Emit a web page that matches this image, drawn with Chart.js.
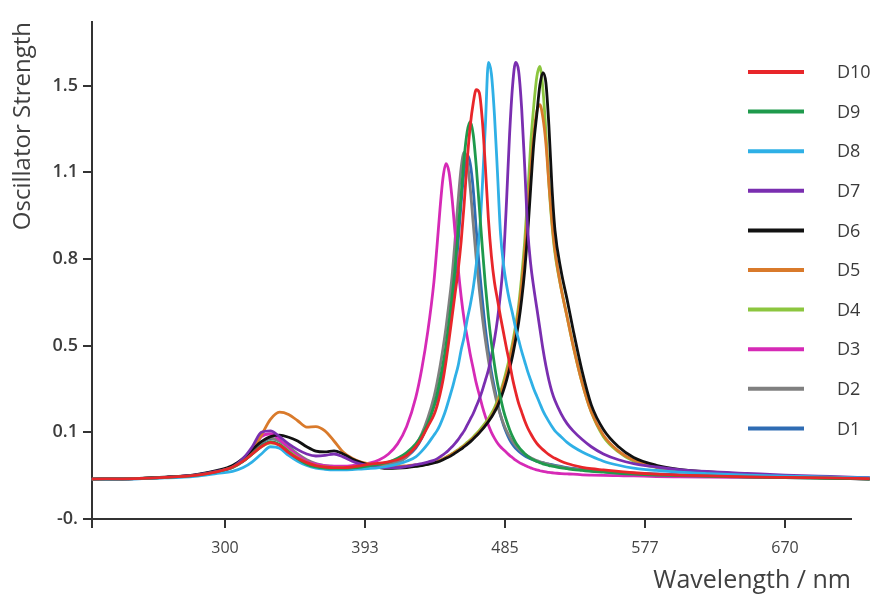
<!DOCTYPE html>
<html>
<head>
<meta charset="utf-8">
<title>Oscillator Strength</title>
<script src="https://cdn.jsdelivr.net/npm/chart.js@4/dist/chart.umd.min.js"></script>
<style>
  html, body { margin: 0; padding: 0; background: #fff; }
  #wrap { width: 885px; height: 599px; }
</style>
</head>
<body>
<div id="wrap"><canvas id="spectra" width="885" height="599"></canvas></div>
<script>
// Wavelength grid (nm) shared by every series, finer around the main bands
const wavelengths = [
    212, 240, 260, 280, 295,
    305, 312, 318, 324, 330, 336, 342, 348, 354, 360, 366, 372, 378, 384, 390,
    396, 402, 408, 414, 420, 426, 430, 434, 438,
    440, 442, 444, 446, 448, 450, 452, 454, 456, 458,
    460, 462, 464, 466, 468, 470, 472, 474, 476, 478,
    480, 482, 484, 486, 488, 490, 492, 494, 496, 498,
    500, 502, 504, 506, 508, 510, 512, 514, 516, 518,
    522, 526, 530, 536, 542, 550, 560, 570, 585, 600, 620, 645, 670, 700, 726,
];

const seriesD10 = [
    0.138, 0.140, 0.144, 0.151, 0.164,
    0.180, 0.200, 0.225, 0.250, 0.265, 0.255, 0.230, 0.210, 0.195, 0.185, 0.180, 0.178, 0.178, 0.180, 0.185,
    0.190, 0.193, 0.198, 0.205, 0.220, 0.250, 0.280, 0.320, 0.360,
    0.390, 0.430, 0.480, 0.545, 0.620, 0.700, 0.780, 0.860, 0.960, 1.090,
    1.240, 1.360, 1.440, 1.486, 1.475, 1.380, 1.220, 1.040, 0.910, 0.820,
    0.760, 0.700, 0.645, 0.590, 0.540, 0.485, 0.440, 0.400, 0.370, 0.340,
    0.315, 0.295, 0.277, 0.262, 0.250, 0.240, 0.231, 0.223, 0.216, 0.210,
    0.200, 0.192, 0.186, 0.179, 0.174, 0.170, 0.165, 0.160, 0.155, 0.152, 0.149, 0.146, 0.144, 0.142, 0.140,
];
const seriesD9 = [
    0.138, 0.140, 0.144, 0.151, 0.164,
    0.180, 0.200, 0.225, 0.252, 0.268, 0.258, 0.232, 0.208, 0.190, 0.180, 0.176, 0.175, 0.175, 0.177, 0.180,
    0.185, 0.190, 0.197, 0.210, 0.230, 0.260, 0.290, 0.330, 0.390,
    0.430, 0.480, 0.535, 0.600, 0.680, 0.770, 0.870, 1.000, 1.120, 1.250,
    1.340, 1.375, 1.330, 1.220, 1.080, 0.940, 0.810, 0.700, 0.610, 0.535,
    0.470, 0.420, 0.375, 0.340, 0.310, 0.285, 0.265, 0.250, 0.237, 0.226,
    0.217, 0.210, 0.204, 0.199, 0.195, 0.191, 0.188, 0.185, 0.183, 0.181,
    0.177, 0.174, 0.171, 0.168, 0.165, 0.162, 0.158, 0.155, 0.152, 0.150, 0.148, 0.145, 0.143, 0.141, 0.139,
];
const seriesD8 = [
    0.137, 0.139, 0.142, 0.148, 0.158,
    0.165, 0.178, 0.198, 0.225, 0.250, 0.245, 0.220, 0.200, 0.185, 0.176, 0.172, 0.170, 0.170, 0.171, 0.173,
    0.175, 0.178, 0.183, 0.190, 0.200, 0.215, 0.235, 0.260, 0.290,
    0.305, 0.325, 0.350, 0.380, 0.415, 0.450, 0.490, 0.530, 0.585, 0.630,
    0.690, 0.740, 0.800, 0.880, 0.980, 1.150, 1.360, 1.580, 1.540, 1.400,
    1.200, 0.990, 0.880, 0.810, 0.755, 0.710, 0.660, 0.620, 0.580, 0.545,
    0.510, 0.480, 0.450, 0.425, 0.400, 0.375, 0.355, 0.337, 0.320, 0.305,
    0.285, 0.265, 0.250, 0.232, 0.217, 0.200, 0.186, 0.176, 0.168, 0.162, 0.157, 0.152, 0.148, 0.145, 0.142,
];
const seriesD7 = [
    0.138, 0.140, 0.144, 0.152, 0.166,
    0.180, 0.210, 0.250, 0.300, 0.305, 0.285, 0.260, 0.240, 0.225, 0.218, 0.220, 0.225, 0.215, 0.200, 0.190,
    0.185, 0.180, 0.178, 0.178, 0.182, 0.188, 0.192, 0.197, 0.203,
    0.208, 0.215, 0.222, 0.230, 0.240, 0.250, 0.262, 0.275, 0.290, 0.305,
    0.325, 0.345, 0.365, 0.390, 0.415, 0.445, 0.480, 0.515, 0.565, 0.620,
    0.690, 0.780, 0.900, 1.100, 1.330, 1.500, 1.580, 1.550, 1.420, 1.220,
    1.000, 0.880, 0.800, 0.730, 0.660, 0.590, 0.530, 0.480, 0.440, 0.410,
    0.365, 0.330, 0.305, 0.275, 0.250, 0.225, 0.205, 0.192, 0.180, 0.171, 0.164, 0.158, 0.152, 0.147, 0.143,
];
const seriesD6 = [
    0.138, 0.140, 0.145, 0.153, 0.168,
    0.185, 0.210, 0.240, 0.268, 0.285, 0.290, 0.283, 0.270, 0.250, 0.235, 0.232, 0.236, 0.225, 0.208, 0.195,
    0.185, 0.178, 0.175, 0.176, 0.178, 0.182, 0.185, 0.189, 0.194,
    0.197, 0.200, 0.205, 0.210, 0.215, 0.221, 0.228, 0.235, 0.242, 0.250,
    0.258, 0.267, 0.277, 0.287, 0.298, 0.310, 0.323, 0.337, 0.352, 0.370,
    0.390, 0.415, 0.445, 0.480, 0.520, 0.565, 0.620, 0.680, 0.760, 0.860,
    0.990, 1.150, 1.300, 1.400, 1.500, 1.545, 1.510, 1.360, 1.150, 1.000,
    0.860, 0.760, 0.655, 0.510, 0.395, 0.310, 0.250, 0.213, 0.186, 0.172, 0.163, 0.154, 0.147, 0.142, 0.138,
];
const seriesD5 = [
    0.138, 0.140, 0.144, 0.152, 0.166,
    0.180, 0.205, 0.240, 0.290, 0.345, 0.370, 0.362, 0.340, 0.318, 0.320, 0.305, 0.270, 0.232, 0.210, 0.197,
    0.190, 0.185, 0.182, 0.182, 0.184, 0.187, 0.189, 0.192, 0.196,
    0.199, 0.203, 0.208, 0.213, 0.219, 0.225, 0.231, 0.238, 0.245, 0.253,
    0.261, 0.270, 0.280, 0.290, 0.301, 0.313, 0.326, 0.340, 0.355, 0.375,
    0.400, 0.430, 0.465, 0.500, 0.545, 0.595, 0.650, 0.720, 0.810, 0.920,
    1.060, 1.210, 1.330, 1.410, 1.434, 1.390, 1.300, 1.160, 1.030, 0.930,
    0.800, 0.700, 0.600, 0.470, 0.370, 0.290, 0.235, 0.204, 0.180, 0.168, 0.160, 0.153, 0.148, 0.143, 0.140,
];
const seriesD4 = [
    0.138, 0.140, 0.144, 0.151, 0.164,
    0.178, 0.200, 0.225, 0.250, 0.263, 0.258, 0.235, 0.212, 0.195, 0.185, 0.180, 0.178, 0.178, 0.179, 0.182,
    0.185, 0.180, 0.177, 0.178, 0.180, 0.183, 0.186, 0.190, 0.196,
    0.199, 0.203, 0.208, 0.214, 0.220, 0.226, 0.233, 0.240, 0.248, 0.256,
    0.265, 0.274, 0.284, 0.295, 0.307, 0.320, 0.333, 0.348, 0.365, 0.385,
    0.410, 0.440, 0.475, 0.515, 0.560, 0.610, 0.670, 0.740, 0.840, 0.960,
    1.120, 1.300, 1.430, 1.530, 1.566, 1.490, 1.340, 1.160, 1.020, 0.920,
    0.800, 0.700, 0.600, 0.470, 0.370, 0.285, 0.232, 0.200, 0.178, 0.166, 0.158, 0.151, 0.146, 0.142, 0.139,
];
const seriesD3 = [
    0.138, 0.140, 0.144, 0.152, 0.166,
    0.180, 0.205, 0.240, 0.285, 0.295, 0.275, 0.245, 0.220, 0.200, 0.190, 0.185, 0.183, 0.183, 0.185, 0.190,
    0.194, 0.205, 0.225, 0.260, 0.320, 0.420, 0.520, 0.650, 0.820,
    0.940, 1.070, 1.180, 1.230, 1.200, 1.110, 0.990, 0.870, 0.770, 0.690,
    0.630, 0.570, 0.520, 0.470, 0.430, 0.390, 0.355, 0.325, 0.300, 0.280,
    0.263, 0.250, 0.240, 0.230, 0.220, 0.212, 0.204, 0.197, 0.191, 0.186,
    0.181, 0.177, 0.173, 0.170, 0.167, 0.165, 0.163, 0.161, 0.160, 0.159,
    0.157, 0.156, 0.155, 0.153, 0.152, 0.151, 0.150, 0.149, 0.147, 0.146, 0.145, 0.144, 0.143, 0.141, 0.139,
];
const seriesD2 = [
    0.138, 0.140, 0.144, 0.151, 0.165,
    0.180, 0.205, 0.235, 0.265, 0.280, 0.270, 0.250, 0.225, 0.205, 0.192, 0.185, 0.182, 0.180, 0.180, 0.180,
    0.180, 0.185, 0.190, 0.197, 0.215, 0.255, 0.295, 0.350, 0.421,
    0.469, 0.526, 0.589, 0.662, 0.747, 0.840, 0.965, 1.100, 1.215, 1.270,
    1.239, 1.146, 1.022, 0.899, 0.795, 0.700, 0.620, 0.550, 0.490, 0.440,
    0.395, 0.360, 0.330, 0.305, 0.285, 0.268, 0.254, 0.243, 0.233, 0.225,
    0.218, 0.212, 0.207, 0.202, 0.198, 0.195, 0.192, 0.189, 0.186, 0.184,
    0.180, 0.176, 0.173, 0.170, 0.167, 0.164, 0.160, 0.157, 0.154, 0.151, 0.149, 0.146, 0.144, 0.142, 0.140,
];
const seriesD1 = [
    0.137, 0.139, 0.143, 0.150, 0.163,
    0.178, 0.200, 0.230, 0.262, 0.278, 0.270, 0.248, 0.222, 0.200, 0.188, 0.182, 0.179, 0.178, 0.177, 0.177,
    0.178, 0.182, 0.187, 0.197, 0.215, 0.245, 0.280, 0.330, 0.390,
    0.417, 0.465, 0.521, 0.584, 0.656, 0.741, 0.834, 0.957, 1.093, 1.206,
    1.260, 1.230, 1.140, 1.000, 0.870, 0.760, 0.660, 0.580, 0.510, 0.455,
    0.405, 0.360, 0.325, 0.298, 0.275, 0.258, 0.245, 0.235, 0.226, 0.219,
    0.213, 0.208, 0.204, 0.200, 0.197, 0.195, 0.192, 0.190, 0.188, 0.186,
    0.182, 0.178, 0.175, 0.172, 0.169, 0.166, 0.162, 0.159, 0.156, 0.153, 0.150, 0.147, 0.145, 0.143, 0.141,
];

const seriesNames = ['D10', 'D9', 'D8', 'D7', 'D6', 'D5', 'D4', 'D3', 'D2', 'D1'];
const seriesValues = [seriesD10, seriesD9, seriesD8, seriesD7, seriesD6, seriesD5, seriesD4, seriesD3, seriesD2, seriesD1];
const seriesColors = ['#e8262a', '#1f9a4c', '#2fb0e6', '#7a2eb0', '#111111', '#d97a2b', '#8cc63f', '#d62ab6', '#808080', '#2f6cb3'];

// Axis ticks: positions and the labels printed next to them
const xTickValues = [212.1, 300, 392.5, 485, 577.5, 670];
const xTickLabels = ['', '300', '393', '485', '577', '670'];
const yTickValues = [0, 0.3, 0.6, 0.9, 1.2, 1.5];
const yTickLabels = ['-0.', '0.1', '0.5', '0.8', '1.1', '1.5'];

// Legend drawn inside the plot, stacked at the right edge
const insideLegend = {
    id: 'insideLegend',
    afterDatasetsDraw(chart) {
        const { ctx, chartArea } = chart;
        const x0 = chartArea.right - 103;
        ctx.save();
        ctx.font = "18px 'Open Sans', sans-serif";
        ctx.textBaseline = 'middle';
        chart.data.datasets.forEach((ds, i) => {
            const y = chartArea.top + 50 + i * 39.6;
            ctx.strokeStyle = ds.borderColor;
            ctx.lineWidth = 4;
            ctx.beginPath();
            ctx.moveTo(x0, y);
            ctx.lineTo(x0 + 56, y);
            ctx.stroke();
            ctx.fillStyle = '#3a3a3a';
            ctx.fillText(ds.label, x0 + 89, y + 1);
        });
        ctx.restore();
    },
};

const axisLine = { color: '#333', width: 2 };
const tickMarks = { drawOnChartArea: false, drawTicks: true, tickLength: 9, color: '#333', lineWidth: 2 };

new Chart(document.getElementById('spectra'), {
    type: 'line',
    data: {
        datasets: seriesNames.map((name, i) => ({
            label: name,
            data: wavelengths.map((w, j) => ({ x: w, y: seriesValues[i][j] })),
            borderColor: seriesColors[i],
            borderWidth: 2.8,
            pointRadius: 0,
            cubicInterpolationMode: 'monotone',
            clip: false,
        })),
    },
    options: {
        responsive: false,
        animation: false,
        layout: { padding: { top: 22, right: 34, left: 0, bottom: 0 } },
        plugins: {
            legend: { display: false },
            tooltip: { enabled: false },
        },
        scales: {
            x: {
                type: 'linear',
                min: 212.1,
                max: 713.6,
                afterFit: (scale) => { scale.height = 80; },
                afterBuildTicks: (scale) => { scale.ticks = xTickValues.map((v) => ({ value: v })); },
                grid: tickMarks,
                border: axisLine,
                ticks: {
                    padding: 11,
                    color: '#444',
                    font: { family: "'Open Sans', sans-serif", size: 16 },
                    maxRotation: 0,
                    callback: (v, i) => xTickLabels[i],
                },
                title: {
                    display: true,
                    text: 'Wavelength / nm',
                    align: 'end',
                    color: '#404040',
                    font: { family: "'Open Sans', sans-serif", size: 25 },
                    padding: { top: 0, bottom: 3 },
                },
            },
            y: {
                type: 'linear',
                min: 0,
                max: 1.72,
                afterFit: (scale) => { scale.width = 92; },
                afterBuildTicks: (scale) => { scale.ticks = yTickValues.map((v) => ({ value: v })); },
                grid: tickMarks,
                border: axisLine,
                ticks: {
                    padding: 5,
                    color: '#3c3c3c',
                    font: { family: "'Open Sans', sans-serif", size: 18, weight: 600 },
                    callback: (v, i) => yTickLabels[i],
                },
                title: {
                    display: true,
                    text: 'Oscillator Strength',
                    align: 'end',
                    color: '#404040',
                    font: { family: "'Open Sans', sans-serif", size: 24 },
                    padding: { top: 9, bottom: 0 },
                },
            },
        },
    },
    plugins: [insideLegend],
});
</script>
</body>
</html>
